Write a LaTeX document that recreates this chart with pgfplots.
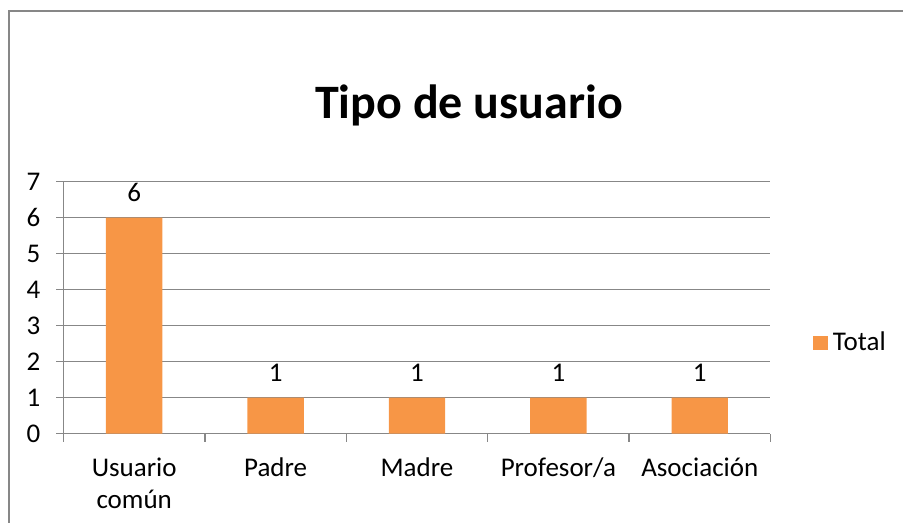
\documentclass[border=0pt]{standalone}
\usepackage{fontspec}
\setmainfont{Carlito}
\usepackage{pgfplots}
\pgfplotsset{compat=1.18}
\definecolor{BarOrange}{HTML}{F79646}
\definecolor{GridGray}{HTML}{878787}
\begin{document}
\begin{tikzpicture}
% page = 903x523 px at 0.5pt per px
\path[use as bounding box] (0,0) rectangle (451.5pt,-261.5pt);
\draw[GridGray,line width=0.75pt] (4.5pt,-261.5pt) -- (4.5pt,-5.5pt) -- (451.5pt,-5.5pt);
\node[anchor=base,font=\fontsize{24}{28}\selectfont\bfseries] at (234.5pt,-59.5pt) {Tipo de usuario};
\begin{axis}[
  at={(31.75pt,-216.75pt)}, anchor=south west,
  scale only axis, width=353.5pt, height=126pt,
  xmin=0, xmax=5, ymin=0, ymax=7,
  ybar, bar width=28.2pt,
  axis lines*=left,
  axis line style={GridGray,line width=0.75pt},
  ymajorgrids, grid style={GridGray,line width=0.75pt},
  ytick={0,...,7},
  xtick={0.5,1.5,2.5,3.5,4.5},
  xticklabels={{Usuario\\común},Padre,Madre,Profesor/a,Asociación},
  minor xtick={0,...,5},
  tick align=outside,
  major x tick style={draw=none},
  minor x tick style={GridGray,line width=0.75pt},
  minor tick length=4pt,
  major tick length=3.5pt,
  y tick style={GridGray,line width=0.75pt},
  tick label style={font=\fontsize{13.5}{16}\selectfont},
  xticklabel style={align=center,yshift=-5pt},
  yticklabel style={xshift=-4.5pt},
  /pgf/number format/assume math mode=true,
  nodes near coords,
  every node near coord/.append style={font=\fontsize{13.5}{16}\selectfont,anchor=center,yshift=12.5pt},
  legend style={at={(1.06,0.36)},anchor=west,draw=none,fill=none,inner sep=0pt,
    font=\fontsize{13.5}{16}\selectfont,
    nodes={inner sep=2.5pt}},
  legend cell align=left,
  legend image code/.code={\fill[BarOrange] (0pt,-3.6pt) rectangle (7.3pt,3.6pt);},
]
\addplot[fill=BarOrange,draw=none] coordinates {(0.5,6) (1.5,1) (2.5,1) (3.5,1) (4.5,1)};
\addlegendentry{Total}
\end{axis}
\end{tikzpicture}
\end{document}
